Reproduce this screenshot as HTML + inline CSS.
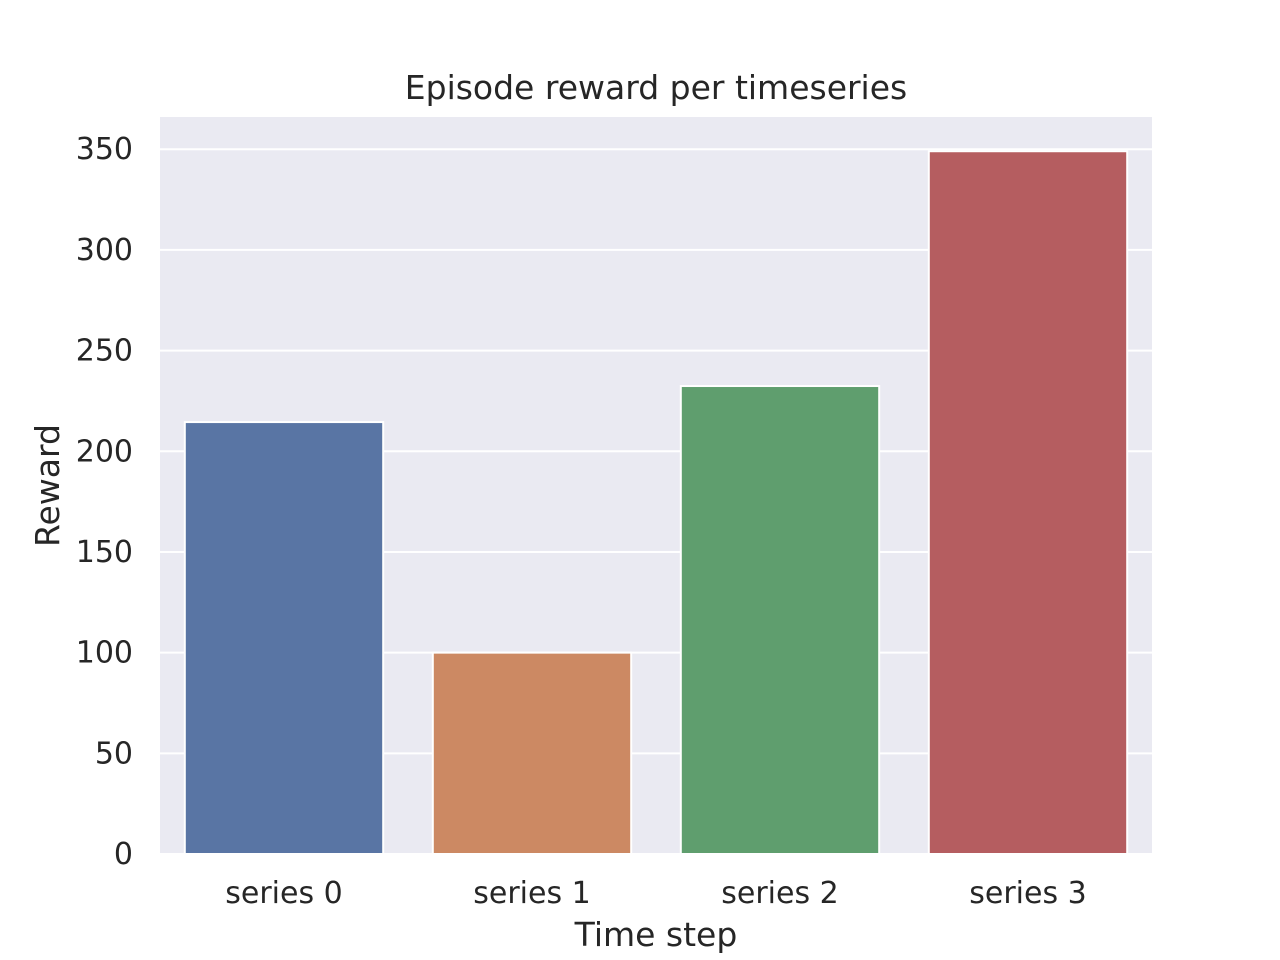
<!DOCTYPE html>
<html><head><meta charset="utf-8">
<style>
html,body{margin:0;padding:0;background:#fff;}
svg{display:block;font-family:"DejaVu Sans","Liberation Sans",sans-serif;}
</style></head>
<body>
<svg id="chart" width="1280" height="960"></svg>
<script>
const categories = ["series 0","series 1","series 2","series 3"];
const values = [214.5, 100, 232.4, 349];
const yTicks = [0,50,100,150,200,250,300,350];
const colors = ["#5975a4","#cc8963","#5f9e6e","#b55d60"];

const NS = "http://www.w3.org/2000/svg";
const svg = document.getElementById("chart");
const L = 160, R = 1152, T = 117, B = 854;
const yMax = 366;
function y(v){ return B - (v / yMax) * (B - T); }
const band = (R - L) / categories.length;
function xc(i){ return L + band * (i + 0.5); }
function mk(tag, attrs, text){
  const e = document.createElementNS(NS, tag);
  for (const k in attrs) e.setAttribute(k, attrs[k]);
  if (text !== undefined) e.textContent = text;
  svg.appendChild(e);
  return e;
}
const bg = mk("rect",{x:L,y:T,width:R-L,height:B-T,fill:"#eaeaf2"});


yTicks.forEach(t=>{
  const g = mk("line",{x1:L,x2:R,y1:y(t),y2:y(t),stroke:"#fff","stroke-width":2});
  
  
  const lb = mk("text",{x:L-27,y:y(t)+10,"text-anchor":"end","font-size":30,fill:"#262626"},String(t));
  
  
});
values.forEach((v,i)=>{
  const w = band*0.8;
  const r = mk("rect",{x:xc(i)-w/2,y:y(v),width:w,height:B-y(v),fill:colors[i],stroke:"#fff","stroke-width":2});
  
  
  const lb = mk("text",{x:xc(i),y:B+49,"text-anchor":"middle","font-size":30,fill:"#262626"},categories[i]);
  
  
});
const title = mk("text",{x:(L+R)/2,y:99,"text-anchor":"middle","font-size":33,fill:"#262626"},"Episode reward per timeseries");


const xt = mk("text",{x:(L+R)/2,y:946,"text-anchor":"middle","font-size":33,fill:"#262626"},"Time step");


const yt = mk("text",{x:0,y:0,"text-anchor":"middle","font-size":33,fill:"#262626",transform:"translate(59,"+((T+B)/2)+") rotate(-90)"},"Reward");


</script>
</body></html>
